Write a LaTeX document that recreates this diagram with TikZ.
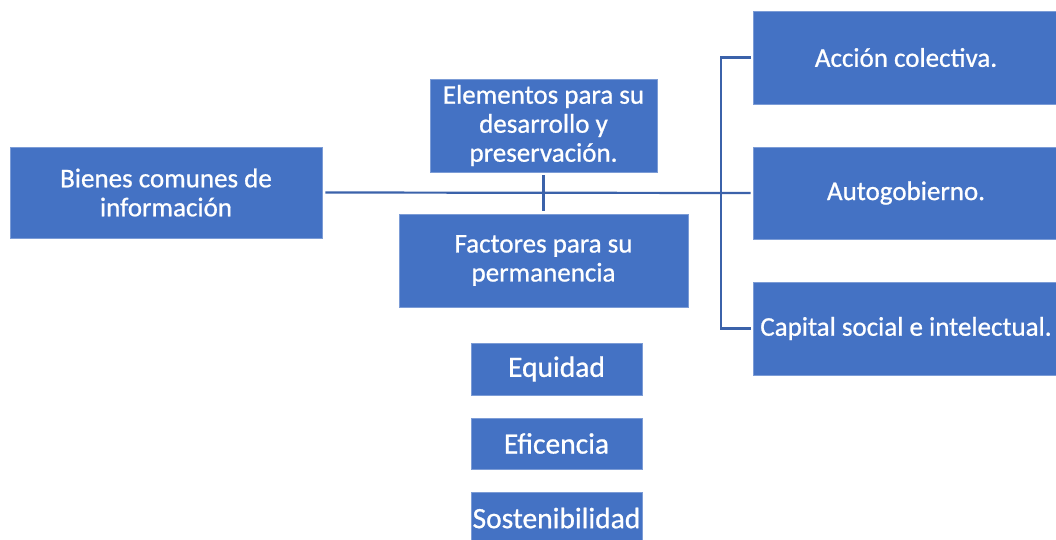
\documentclass[tikz,border=0pt]{standalone}
\usepackage{fontspec}
\setmainfont{Carlito}
\newfontfamily\boxfont{Carlito}[FakeBold=0.8, BoldFont=Carlito]
\usepackage{tikz}
\usetikzlibrary{positioning,calc}

\definecolor{boxblue}{HTML}{4472C4}
\definecolor{lineblue}{HTML}{3B62AA}

\begin{document}
\begin{tikzpicture}[x=1pt, y=-1pt,
  bluebox/.style={fill=boxblue, draw=boxblue!70!white, line width=0.6pt, text=white,
                  align=center, inner sep=0pt, font=\boxfont\bfseries\fontsize{27}{29}\selectfont},
  smallbox/.style={bluebox, minimum width=171, font=\boxfont\bfseries\fontsize{29.5}{31}\selectfont},
  link/.style={draw=lineblue, line width=2.2pt}]
  \useasboundingbox (0,0) rectangle (1056,539);
  % Main box
  \node[bluebox, minimum width=312, minimum height=91] (bienes) at (166,192.5) {Bienes comunes de\\informaci\'on};
  % Middle boxes
  \node[bluebox, minimum width=227, minimum height=93] (elem) at (543.5,125.5) {Elementos para su\\desarrollo y\\preservaci\'on.};
  \node[bluebox, minimum width=289, minimum height=93] (fact) at (543.5,260.5) {Factores para su\\permanencia};
  % Right boxes
  \node[bluebox, minimum width=306, minimum height=93] (accion) at (906,57.5) {Acci\'on colectiva.};
  \node[bluebox, minimum width=306, minimum height=92] (autog) at (906,193) {Autogobierno.};
  \node[bluebox, minimum width=306, minimum height=93] (capital) at (906,328.5) {Capital social e intelectual.};
  % Bottom boxes
  \node[smallbox, minimum height=52] (equidad) at (556.5,369) {Equidad};
  \node[smallbox, minimum height=51] (eficencia) at (556.5,443.5) {Eficencia};
  \node[smallbox, minimum height=52] (sosten) at (556.5,518) {Sostenibilidad};
  % Connectors
  \draw[link] ($(bienes.east)+(3,0)$) -- ($(autog.west)+(-2,0)$);
  \draw[link] ($(elem.south)+(0,3)$) -- ($(fact.north)+(0,-3)$);
  \draw[link] ($(accion.west)+(-2,0)$) -- ++(-30,0) |- ($(capital.west)+(-2,0)$);
\end{tikzpicture}
\end{document}
